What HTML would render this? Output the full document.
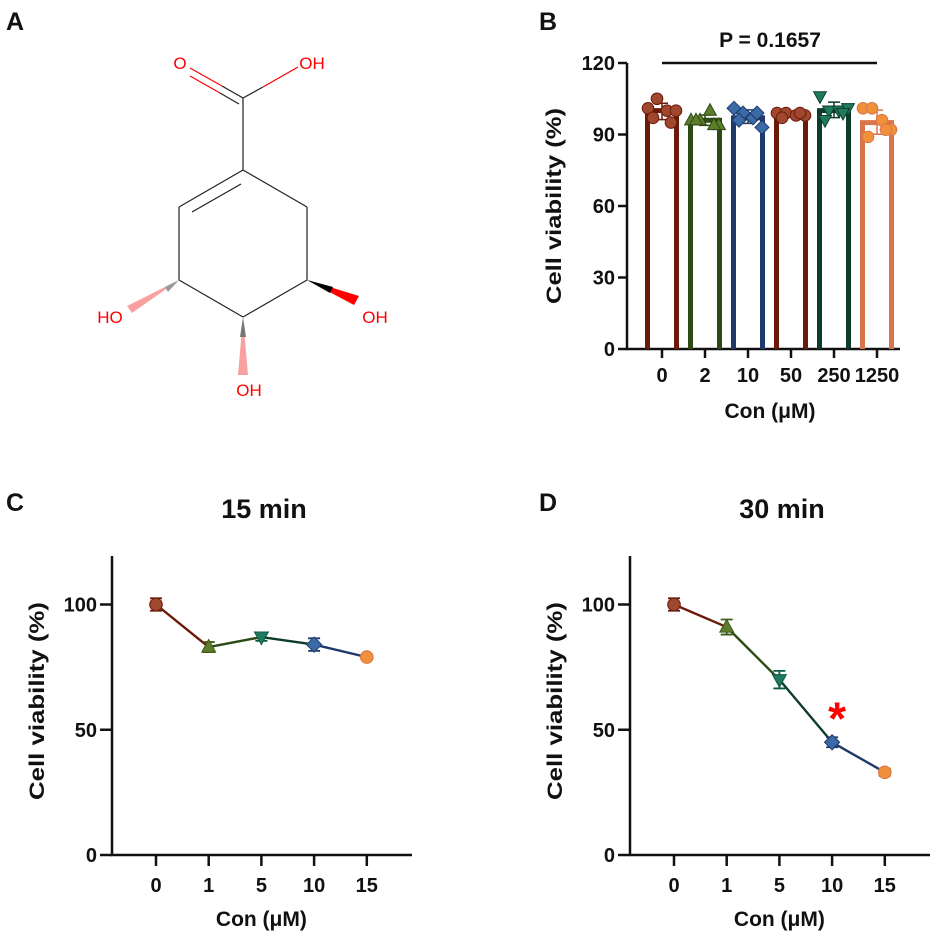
<!DOCTYPE html>
<html><head><meta charset="utf-8"><style>
body{margin:0;background:#fff;}
svg{display:block;font-family:"Liberation Sans",Arial,sans-serif;}
.tk{font-size:20px;font-weight:bold;fill:#111;}
.at{font-size:21px;font-weight:bold;fill:#111;}
.pl{font-size:25px;font-weight:bold;fill:#111;}
.ttl{font-size:27px;font-weight:bold;fill:#111;}
.mol{font-size:17px;fill:#f00;}
</style></head><body>
<svg id="fig" width="935" height="939" viewBox="0 0 935 939">
<text class="pl" x="6" y="30">A</text>
<text class="pl" x="539" y="30">B</text>
<text class="pl" x="6" y="511">C</text>
<text class="pl" x="539" y="511">D</text>

<g stroke="#222" stroke-width="1.2" fill="none">
<line x1="243" y1="98" x2="243" y2="170"/>
<line x1="243" y1="170" x2="179" y2="207"/>
<line x1="241" y1="184" x2="192" y2="212"/>
<line x1="179" y1="207" x2="179" y2="280"/>
<line x1="179" y1="280" x2="243" y2="317"/>
<line x1="243" y1="317" x2="307" y2="280"/>
<line x1="307" y1="280" x2="307" y2="207"/>
<line x1="307" y1="207" x2="243" y2="170"/>
<line x1="243" y1="98" x2="263" y2="87"/>
<line x1="263" y1="87" x2="298" y2="67" stroke="#f00"/>
<line x1="243" y1="98" x2="222" y2="86"/>
<line x1="222" y1="86" x2="190" y2="68" stroke="#f00"/>
<line x1="239" y1="104" x2="220" y2="93"/>
<line x1="220" y1="93" x2="190" y2="76" stroke="#f00"/>
<polygon points="179,280 127,306 132,313" fill="#f9a0a0" stroke="none"/>
<polygon points="179,280 165,287 168,292" fill="#999" stroke="none"/>
<polygon points="243,317 238,375 248,375" fill="#f9a0a0" stroke="none"/>
<polygon points="243,317 240,337 246,337" fill="#777" stroke="none"/>
<polygon points="307,280 354,305 359,296" fill="#f00" stroke="none"/>
<polygon points="307,280 330,293 333,287" fill="#000" stroke="none"/>
</g>
<text class="mol" x="180" y="69" text-anchor="middle">O</text>
<text class="mol" x="312" y="69" text-anchor="middle">OH</text>
<text class="mol" x="110" y="323" text-anchor="middle">HO</text>
<text class="mol" x="375" y="323" text-anchor="middle">OH</text>
<text class="mol" x="249" y="396" text-anchor="middle">OH</text>

<g id="chartB"></g>
<g id="chartC"></g>
<g id="chartD"></g>
</svg>
<script>
const NS="http://www.w3.org/2000/svg";
// ---- data ----
const barCategories=["0","2","10","50","250","1250"];
const barMeans=[100,96,97,98,100,95];
const barPoints=[[101,105,100,100,97,95],[96,96,100,94,96,94],[101,99,97,93,96,99],[99,99,98,98,97,99],[106,100,100,101,96,99],[101,101,96,92,89,92]];
const barYTicks=[0,30,60,90,120];
const lineCategories=["0","1","5","10","15"];
const line15Values=[100,83,87,84,79];
const line15Errors=[2.5,2,1.5,2.5,1];
const line30Values=[100,91,70,45,33];
const line30Errors=[2.5,3,3.5,2,1.5];
const lineYTicks=[0,50,100];
const pValueLabel="P = 0.1657";

const barStroke=["#6b1a0a","#2d4a14","#1f3a6a","#6b1a0a","#0d3d2a","#d9754a"];
const ptFill=["#a0482e","#5e7d2a","#3b6aa8","#a0482e","#1f7a5e","#f0903a"];
const shapes=["circle","up","diamond","circle","down","circle"];

function el(parent,tag,attrs){const e=document.createElementNS(NS,tag);for(const k in attrs)e.setAttribute(k,attrs[k]);parent.appendChild(e);return e;}
function txt(parent,str,attrs){const t=el(parent,"text",attrs);t.textContent=str;return t;}
function marker(g,shape,x,y,r,fill,stroke){
  let m;
  if(shape==="circle")m=el(g,"circle",{cx:x,cy:y,r:r,fill:fill,stroke:stroke,"stroke-width":1});
  else if(shape==="up")m=el(g,"polygon",{points:`${x},${y-r*1.2} ${x-r*1.1},${y+r*0.8} ${x+r*1.1},${y+r*0.8}`,fill:fill,stroke:stroke,"stroke-width":1});
  else if(shape==="down")m=el(g,"polygon",{points:`${x},${y+r*1.2} ${x-r*1.1},${y-r*0.8} ${x+r*1.1},${y-r*0.8}`,fill:fill,stroke:stroke,"stroke-width":1});
  else m=el(g,"polygon",{points:`${x},${y-r*1.2} ${x+r*1.2},${y} ${x},${y+r*1.2} ${x-r*1.2},${y}`,fill:fill,stroke:stroke,"stroke-width":1});
  return m;
}

// ---- Chart B ----
(function(){
  const g=document.getElementById("chartB");
  const x0=627,yb=349,yt=63,ymax=120;
  const ys=v=>yb-(v/ymax)*(yb-yt);
  const xs=i=>662+i*43;
  const ax=el(g,"path",{d:`M${x0},${yt} V${yb} H900`,stroke:"#111","stroke-width":2.5,fill:"none"});
  
  
  barYTicks.forEach(v=>{
    const l=el(g,"line",{x1:x0-9,x2:x0,y1:ys(v),y2:ys(v),stroke:"#111","stroke-width":2.5});
    
    
    const t=txt(g,v,{x:x0-12,y:ys(v)+7,"text-anchor":"end",class:"tk"});
    
    
  });
  barCategories.forEach((c,i)=>{
    const x=xs(i);
    const tk=el(g,"line",{x1:x,x2:x,y1:yb,y2:yb+9,stroke:"#111","stroke-width":2.5});
    
    
    const t=txt(g,c,{x:x,y:yb+33,"text-anchor":"middle",class:"tk"});
    
    
    const b=el(g,"path",{d:`M${x-14.5},${yb} V${ys(barMeans[i])} H${x+14.5} V${yb}`,stroke:barStroke[i],"stroke-width":5,fill:"none"});
    
    
    const pts=barPoints[i];
    const mean=pts.reduce((a,b)=>a+b,0)/pts.length;
    const sd=Math.sqrt(pts.reduce((a,b)=>a+(b-mean)**2,0)/(pts.length-1));
    const e=el(g,"path",{d:`M${x},${ys(mean-sd)} V${ys(mean+sd)} M${x-6},${ys(mean-sd)} H${x+6} M${x-6},${ys(mean+sd)} H${x+6}`,stroke:barStroke[i],"stroke-width":1.5,fill:"none"});
    
    
    const offs=[-14,-5,5,14,-9,9];
    pts.forEach((v,j)=>{
      const m=marker(g,shapes[i],x+offs[j],ys(v),5.8,ptFill[i],barStroke[i]);
      
      
    });
  });
  const pl=el(g,"line",{x1:662,x2:877,y1:63,y2:63,stroke:"#111","stroke-width":2.5});
  
  
  const pt=txt(g,pValueLabel,{x:770,y:47,"text-anchor":"middle",class:"at","font-size":"22"});
  
  
  const yl=txt(g,"Cell viability (%)",{x:0,y:0,"text-anchor":"middle",class:"at",textLength:"196",lengthAdjust:"spacingAndGlyphs",transform:`translate(561,206) rotate(-90)`});
  
  
  const xl=txt(g,"Con (μM)",{x:770,y:418,"text-anchor":"middle",class:"at"});
  
  
})();

// ---- Line charts ----
const lineColors=["#6b1a0a","#2d4a14","#0d3d2a","#1f3a6a"];
const lineStroke=["#6b1a0a","#3d5a1a","#0d5a44","#1f3a6a","#d9754a"];
const lineFill=["#a0482e","#5e7d2a","#1f7a5e","#3b6aa8","#f0903a"];
const lineShapes=["circle","up","down","diamond","circle"];
function lineChart(id,x0,xend,firstTick,title,vals,errs,star){
  const g=document.getElementById(id);
  const yb=855,yt=556,ymax=120;
  const ys=v=>yb-(v/ymax)*(yb-yt+1.6);
  const xs=i=>firstTick+i*52.7;
  const ax=el(g,"path",{d:`M${x0},${yt} V${yb} H${xend}`,stroke:"#111","stroke-width":2.5,fill:"none"});
  
  
  lineYTicks.forEach(v=>{
    const l=el(g,"line",{x1:x0-12,x2:x0,y1:ys(v),y2:ys(v),stroke:"#111","stroke-width":2.5});
    
    
    const t=txt(g,v,{x:x0-15,y:ys(v)+7,"text-anchor":"end",class:"tk"});
    
    
  });
  lineCategories.forEach((c,i)=>{
    const x=xs(i);
    const tk=el(g,"line",{x1:x,x2:x,y1:yb,y2:yb+11,stroke:"#111","stroke-width":2.5});
    
    
    const t=txt(g,c,{x:x,y:yb+37,"text-anchor":"middle",class:"tk"});
    
    
  });
  for(let i=0;i<vals.length-1;i++){
    const s=el(g,"line",{x1:xs(i),y1:ys(vals[i]),x2:xs(i+1),y2:ys(vals[i+1]),stroke:lineColors[i],"stroke-width":2.4});
    
    
  }
  vals.forEach((v,i)=>{
    const x=xs(i),e=errs[i];
    const eb=el(g,"path",{d:`M${x},${ys(v-e)} V${ys(v+e)} M${x-6},${ys(v-e)} H${x+6} M${x-6},${ys(v+e)} H${x+6}`,stroke:lineStroke[i],"stroke-width":1.8,fill:"none"});
    
    
    const m=marker(g,lineShapes[i],x,ys(v),6.3,lineFill[i],lineStroke[i]);
    
    
  });
  const tt=txt(g,title,{x:(x0+xend)/2+2,y:518,"text-anchor":"middle",class:"ttl"});
  
  
  const yl=txt(g,"Cell viability (%)",{x:0,y:0,"text-anchor":"middle",class:"at",textLength:"198",lengthAdjust:"spacingAndGlyphs",transform:`translate(${x0-68},701) rotate(-90)`});
  
  
  const xl=txt(g,"Con (μM)",{x:firstTick+2*52.7,y:926,"text-anchor":"middle",class:"at"});
  
  
  if(star){
    const st=txt(g,"*",{x:xs(3)+5,y:ys(vals[3])-8,"text-anchor":"middle","font-size":"46","font-weight":"bold",fill:"#f00"});
    
    
  }
}
lineChart("chartC",112,412,156,"15 min",line15Values,line15Errors,false);
lineChart("chartD",630,930,674,"30 min",line30Values,line30Errors,true);
</script>
</body></html>
